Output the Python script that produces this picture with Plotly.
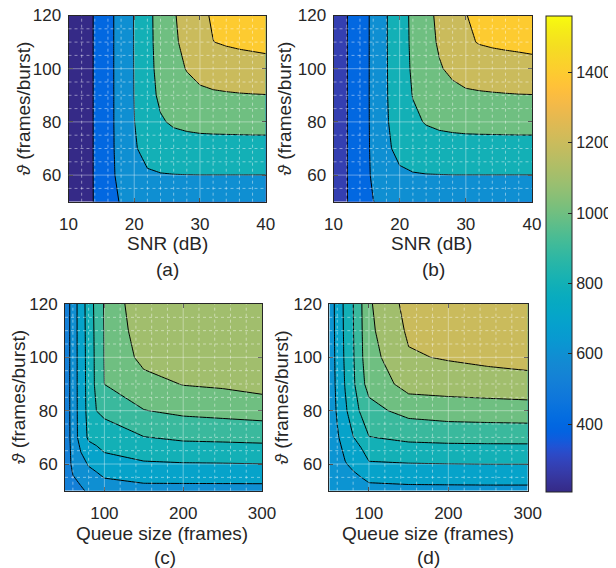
import plotly.graph_objects as go

# ---------------- data ----------------
snr_db = [10, 12, 14, 16, 18, 20, 22, 24, 26, 28, 30, 32, 34, 36, 38, 40]
frames_per_burst = [50, 60, 70, 80, 90, 100, 110, 120]
queue_size = [50, 60, 70, 80, 90, 100, 150, 200, 250, 300]

# rows = frames/burst (50 .. 120), columns = SNR (10 .. 40 dB)
z_a = [
    [208, 309, 412, 530, 614, 650, 662, 665, 666, 667, 667, 667, 667, 667, 667, 667],
    [208, 309, 413, 539, 654, 737, 778, 791, 796, 798, 799, 799, 799, 799, 799, 799],
    [208, 309, 413, 541, 667, 780, 864, 901, 918, 925, 929, 930, 931, 932, 933, 933],
    [208, 309, 413, 542, 671, 797, 912, 983, 1023, 1042, 1054, 1059, 1061, 1063, 1065, 1066],
    [208, 309, 413, 542, 672, 803, 935, 1032, 1099, 1139, 1165, 1178, 1184, 1189, 1193, 1196],
    [208, 309, 413, 542, 673, 805, 944, 1055, 1146, 1208, 1256, 1282, 1300, 1318, 1326, 1332],
    [208, 309, 413, 542, 673, 806, 948, 1067, 1171, 1251, 1330, 1398, 1418, 1430, 1440, 1452],
    [208, 309, 413, 542, 673, 807, 950, 1072, 1183, 1274, 1361, 1419, 1455, 1490, 1526, 1561],
]
z_b = [
    [280, 393, 505, 597, 648, 661, 665, 666, 667, 667, 667, 667, 667, 667, 667, 667],
    [280, 394, 510, 626, 729, 772, 788, 795, 797, 799, 799, 799, 799, 799, 799, 799],
    [280, 394, 511, 634, 769, 849, 894, 914, 923, 927, 930, 931, 931, 932, 933, 933],
    [280, 394, 512, 637, 783, 890, 966, 1012, 1036, 1049, 1057, 1060, 1062, 1064, 1065, 1066],
    [280, 394, 512, 638, 789, 907, 1006, 1078, 1126, 1154, 1174, 1180, 1185, 1190, 1194, 1196],
    [280, 394, 512, 638, 790, 914, 1025, 1117, 1186, 1235, 1273, 1295, 1310, 1320, 1330, 1335],
    [280, 394, 512, 638, 792, 917, 1034, 1137, 1221, 1289, 1370, 1410, 1425, 1435, 1442, 1455],
    [280, 394, 512, 638, 792, 919, 1038, 1146, 1240, 1320, 1396, 1432, 1464, 1497, 1529, 1561],
]
# rows = frames/burst (50 .. 120), columns = queue size (50 .. 300 frames)
z_c = [
    [520, 565, 585, 615, 620, 644, 666, 665, 665, 665],
    [528, 625, 665, 708, 734, 763, 788, 794, 796, 799],
    [530, 642, 742, 815, 830, 849, 897, 917, 922, 928],
    [532, 644, 745, 830, 901, 922, 997, 1021, 1032, 1044],
    [532, 645, 746, 835, 925, 1001, 1064, 1104, 1114, 1135],
    [532, 645, 747, 837, 927, 1004, 1130, 1150, 1158, 1168],
    [532, 645, 748, 840, 930, 1005, 1161, 1175, 1182, 1186],
    [532, 645, 749, 844, 934, 1008, 1185, 1192, 1196, 1198],
]
z_d = [
    [620, 635, 645, 650, 655, 662, 671, 672, 673, 673],
    [630, 668, 695, 717, 744, 789, 796, 799, 801, 801],
    [636, 690, 739, 797, 835, 897, 922, 929, 931, 932],
    [638, 711, 784, 855, 914, 970, 1032, 1049, 1055, 1060],
    [640, 722, 806, 880, 975, 1030, 1140, 1145, 1152, 1159],
    [640, 728, 815, 890, 984, 1060, 1190, 1208, 1225, 1240],
    [641, 732, 820, 895, 987, 1078, 1215, 1240, 1255, 1262],
    [641, 735, 823, 898, 990, 1087, 1235, 1260, 1272, 1280],
]

levels_ab = (400, 1400, 200)
levels_c = (600, 1100, 100)
levels_d = (700, 1200, 100)

snr_ticks = [10, 20, 30, 40]
queue_ticks = [100, 200, 300]
theta_ticks = [60, 80, 100, 120]
colorbar_ticks = [400, 600, 800, 1000, 1200, 1400]

snr_minor = [12, 14, 16, 18, 22, 24, 26, 28, 32, 34, 36, 38]
queue_minor = [60, 80, 120, 140, 160, 180, 220, 240, 260, 280]
theta_minor = [55, 65, 70, 75, 85, 90, 95, 105, 110, 115]

x_title_snr = "SNR (dB)"
x_title_queue = "Queue size (frames)"
y_title = "<i>ϑ</i> (frames/burst)"
panel_tags = ["(a)", "(b)", "(c)", "(d)"]

# ---------------- style ----------------
# the page body has an 8 px margin, so the figure is drawn 8 px smaller and
# all window-pixel positions below are shifted by that offset
OFF = 8
W, H = 616 - OFF, 568 - OFF
FONT = "Liberation Sans, Arial, Helvetica, sans-serif"
AX = "#262626"


def fx(p):
    return (p - OFF) / W


def fy(p):
    return 1 - (p - OFF) / H


PARULA = [
    (0.2081, 0.1663, 0.5292), (0.2116, 0.1898, 0.5777), (0.2123, 0.2138, 0.6270), (0.2081, 0.2386, 0.6771),
    (0.1959, 0.2645, 0.7279), (0.1707, 0.2919, 0.7792), (0.1253, 0.3242, 0.8303), (0.0591, 0.3598, 0.8683),
    (0.0117, 0.3875, 0.8820), (0.0060, 0.4086, 0.8828), (0.0165, 0.4266, 0.8786), (0.0329, 0.4430, 0.8720),
    (0.0498, 0.4586, 0.8641), (0.0629, 0.4737, 0.8554), (0.0723, 0.4887, 0.8467), (0.0779, 0.5040, 0.8384),
    (0.0793, 0.5200, 0.8312), (0.0749, 0.5375, 0.8263), (0.0641, 0.5570, 0.8240), (0.0488, 0.5772, 0.8228),
    (0.0343, 0.5966, 0.8199), (0.0265, 0.6137, 0.8135), (0.0239, 0.6287, 0.8038), (0.0231, 0.6418, 0.7913),
    (0.0228, 0.6535, 0.7768), (0.0267, 0.6642, 0.7607), (0.0384, 0.6743, 0.7436), (0.0590, 0.6838, 0.7254),
    (0.0843, 0.6928, 0.7062), (0.1133, 0.7015, 0.6859), (0.1453, 0.7098, 0.6646), (0.1801, 0.7177, 0.6424),
    (0.2178, 0.7250, 0.6193), (0.2586, 0.7317, 0.5954), (0.3022, 0.7376, 0.5712), (0.3482, 0.7424, 0.5473),
    (0.3953, 0.7459, 0.5244), (0.4420, 0.7481, 0.5033), (0.4871, 0.7491, 0.4840), (0.5300, 0.7491, 0.4661),
    (0.5709, 0.7485, 0.4494), (0.6099, 0.7473, 0.4337), (0.6473, 0.7456, 0.4188), (0.6834, 0.7435, 0.4044),
    (0.7184, 0.7411, 0.3905), (0.7525, 0.7384, 0.3768), (0.7858, 0.7356, 0.3633), (0.8185, 0.7327, 0.3498),
    (0.8507, 0.7299, 0.3360), (0.8824, 0.7274, 0.3217), (0.9139, 0.7258, 0.3063), (0.9450, 0.7261, 0.2886),
    (0.9739, 0.7314, 0.2666), (0.9938, 0.7455, 0.2403), (0.9990, 0.7653, 0.2164), (0.9955, 0.7861, 0.1967),
    (0.9880, 0.8066, 0.1794), (0.9789, 0.8271, 0.1633), (0.9697, 0.8481, 0.1475), (0.9626, 0.8705, 0.1309),
    (0.9589, 0.8949, 0.1132), (0.9598, 0.9218, 0.0948), (0.9661, 0.9514, 0.0755), (0.9763, 0.9831, 0.0538),
]


def rgb(c):
    return "rgb(%d,%d,%d)" % tuple(round(255 * v) for v in c)


def parula_at(t):
    t = min(max(t, 0.0), 1.0)
    pos = t * (len(PARULA) - 1)
    i = int(pos)
    if i >= len(PARULA) - 1:
        return rgb(PARULA[-1])
    f = pos - i
    a, b = PARULA[i], PARULA[i + 1]
    return rgb(tuple(a[k] * (1 - f) + b[k] * f for k in range(3)))


all_z = [v for z in (z_a, z_b, z_c, z_d) for row in z for v in row]
cmin, cmax = min(all_z), max(all_z)
parula_scale = [[i / (len(PARULA) - 1), rgb(c)] for i, c in enumerate(PARULA)]


def band_scale(z, levels):
    """Stepped colorscale: MATLAB contourf colours every band by its lower level."""
    start, end, size = levels
    n = int(round((end - start) / size)) + 1
    lows = [min(v for row in z for v in row)] + [start + k * size for k in range(n)]
    cols = [parula_at((v - cmin) / (cmax - cmin)) for v in lows]
    cs = []
    for j, c in enumerate(cols):
        lo = max(0.0, (j - 0.5) / n)
        hi = min(1.0, (j + 0.5) / n)
        cs.append([lo, c])
        cs.append([hi, c])
    return cs


# window-pixel boxes of the four plot areas: (left, right, top, bottom)
boxes = [
    (68.5, 265.7, 15.5, 201.7),
    (333.5, 532.0, 15.5, 201.7),
    (65.0, 262.0, 304.0, 490.7),
    (329.3, 527.7, 304.0, 490.7),
]

panels = [
    (snr_db, z_a, levels_ab, snr_ticks, snr_minor),
    (snr_db, z_b, levels_ab, snr_ticks, snr_minor),
    (queue_size, z_c, levels_c, queue_ticks, queue_minor),
    (queue_size, z_d, levels_d, queue_ticks, queue_minor),
]

fig = go.Figure()
layout = dict(
    width=W, height=H, margin=dict(l=0, r=0, t=0, b=0, pad=0, autoexpand=False),
    paper_bgcolor="white", plot_bgcolor="white", showlegend=False,
    font=dict(family=FONT, color=AX),
)
shapes = []
annotations = []

axis_common = dict(
    showline=True, linecolor=AX, linewidth=1, mirror="ticks",
    ticks="inside", ticklen=4, tickwidth=1, tickcolor=AX,
    showgrid=False, zeroline=False, automargin=False,
    ticklabeloverflow="allow",
    tickfont=dict(family=FONT, size=17, color=AX),
)

MAJOR = dict(color="rgba(255,255,255,0.38)", width=1)
MINOR = dict(color="rgba(255,255,255,0.45)", width=1, dash="dot")

for idx, ((xs, z, lev, xt, xminor), box) in enumerate(zip(panels, boxes)):
    n = "" if idx == 0 else str(idx + 1)
    xa, ya = "x" + n, "y" + n
    start, end, size = lev
    fig.add_trace(go.Contour(
        x=xs, y=frames_per_burst, z=z,
        xaxis=xa, yaxis=ya,
        autocontour=False,
        contours=dict(start=start, end=end, size=size, coloring="fill", showlines=True),
        line=dict(color="black", width=1, smoothing=0),
        colorscale=band_scale(z, lev), showscale=False, hoverinfo="skip",
    ))
    l, r, t, b = box
    layout["xaxis" + n] = dict(
        axis_common, domain=[fx(l), fx(r)], anchor=ya,
        range=[xs[0], xs[-1]], tickvals=xt, ticklabelstandoff=7,
    )
    layout["yaxis" + n] = dict(
        axis_common, domain=[fy(b), fy(t)], anchor=xa,
        range=[frames_per_burst[0], frames_per_burst[-1]], tickvals=theta_ticks,
        ticklabelstandoff=3,
    )
    # grid drawn on top of the filled contours (as in the MATLAB figure)
    for v in xt:
        if xs[0] < v < xs[-1]:
            shapes.append(dict(type="line", xref=xa, yref=ya + " domain", x0=v, x1=v, y0=0, y1=1,
                               line=MAJOR, layer="above"))
    for v in xminor:
        shapes.append(dict(type="line", xref=xa, yref=ya + " domain", x0=v, x1=v, y0=0, y1=1,
                           line=MINOR, layer="above"))
    for v in theta_ticks[:-1]:
        shapes.append(dict(type="line", xref=xa + " domain", yref=ya, x0=0, x1=1, y0=v, y1=v,
                           line=MAJOR, layer="above"))
    for v in theta_minor:
        shapes.append(dict(type="line", xref=xa + " domain", yref=ya, x0=0, x1=1, y0=v, y1=v,
                           line=MINOR, layer="above"))

# colour bar (continuous parula, shared by all panels)
cb_top, cb_bottom = 15.7, 491.7
fig.add_trace(go.Scatter(
    x=[snr_db[0]], y=[frames_per_burst[0]], mode="markers", xaxis="x", yaxis="y",
    hoverinfo="skip",
    marker=dict(size=1, opacity=0, color=[cmin], cmin=cmin, cmax=cmax,
                colorscale=parula_scale, showscale=True,
                colorbar=dict(
                    x=fx(545.7), xanchor="left", xpad=0, ypad=0,
                    y=fy((cb_top + cb_bottom) / 2), yanchor="middle",
                    len=(cb_bottom - cb_top) / H, lenmode="fraction",
                    thickness=26, outlinewidth=1, outlinecolor=AX,
                    ticks="inside", ticklen=4, tickcolor=AX, tickwidth=1,
                    tickvals=colorbar_ticks, ticklabeloverflow="allow",
                    tickfont=dict(family=FONT, size=16, color=AX),
                )),
))

TFONT = dict(family=FONT, size=19, color=AX)


def ann(text, xpx, ypx, angle=0):
    annotations.append(dict(text=text, x=fx(xpx), y=fy(ypx), xref="paper", yref="paper",
                            showarrow=False, textangle=angle, font=TFONT,
                            xanchor="center", yanchor="middle"))


ann(x_title_snr, 167, 243)
ann(panel_tags[0], 167, 269)
ann(x_title_snr, 432, 243)
ann(panel_tags[1], 433, 269)
ann(x_title_queue, 162, 533)
ann(panel_tags[2], 165, 557)
ann(x_title_queue, 428, 533)
ann(panel_tags[3], 428, 557)
ann(y_title, 24, 108.6, -90)
ann(y_title, 285, 108.6, -90)
ann(y_title, 18.5, 397.4, -90)
ann(y_title, 281, 397.4, -90)

layout["shapes"] = shapes
layout["annotations"] = annotations
fig.update_layout(**layout)
fig.write_html("out.html")
